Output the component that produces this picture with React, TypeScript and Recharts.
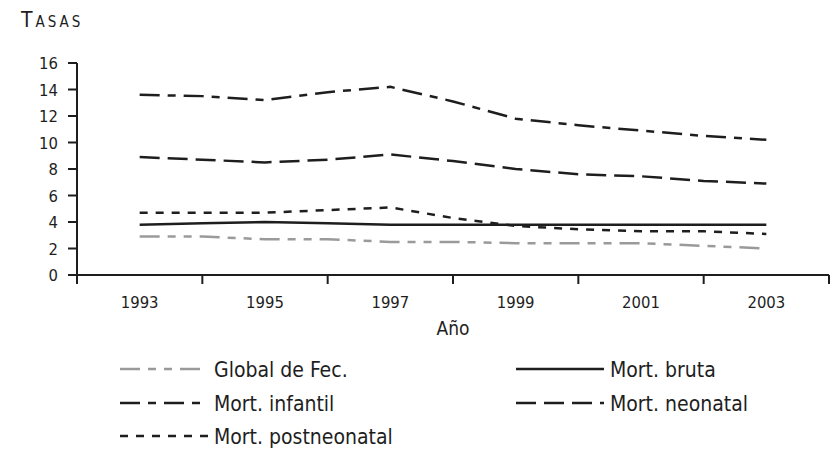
import React from 'react'
import { LineChart, Line, XAxis, YAxis } from 'recharts'

const years = [1993, 1994, 1995, 1996, 1997, 1998, 1999, 2000, 2001, 2002, 2003]
const globalFec = [2.9, 2.9, 2.7, 2.7, 2.5, 2.5, 2.4, 2.4, 2.4, 2.2, 2.0]
const mortBruta = [3.8, 3.9, 4.0, 3.9, 3.8, 3.8, 3.8, 3.8, 3.8, 3.8, 3.8]
const mortInfantil = [13.6, 13.5, 13.2, 13.8, 14.2, 13.1, 11.8, 11.3, 10.9, 10.5, 10.2]
const mortNeonatal = [8.9, 8.7, 8.5, 8.7, 9.1, 8.6, 8.0, 7.6, 7.45, 7.1, 6.9]
const mortPostneonatal = [4.7, 4.7, 4.7, 4.9, 5.1, 4.3, 3.7, 3.45, 3.3, 3.3, 3.1]

const xTicks = [1992, 1993, 1994, 1995, 1996, 1997, 1998, 1999, 2000, 2001, 2002, 2003, 2004]
const yTicks = [0, 2, 4, 6, 8, 10, 12, 14, 16]

const data = years.map((year, i) => ({
  year,
  globalFec: globalFec[i],
  mortBruta: mortBruta[i],
  mortInfantil: mortInfantil[i],
  mortNeonatal: mortNeonatal[i],
  mortPostneonatal: mortPostneonatal[i],
}))

const FONT = "'DejaVu Sans Condensed', 'DejaVu Sans', sans-serif"
const INK = '#1e1e1e'
const GRAY = '#9a9a9a'

const series = [
  { key: 'globalFec', name: 'Global de Fec.', color: GRAY, dash: '20 8 8 8 8 8' },
  { key: 'mortBruta', name: 'Mort. bruta', color: INK, dash: undefined },
  { key: 'mortInfantil', name: 'Mort. infantil', color: INK, dash: '20 8 8 8' },
  { key: 'mortNeonatal', name: 'Mort. neonatal', color: INK, dash: '20 8' },
  { key: 'mortPostneonatal', name: 'Mort. postneonatal', color: INK, dash: '8 8' },
]

const textStyle = { fontFamily: FONT, fontStretch: 'condensed' } as const

function XTick(props: any) {
  const { x, y, payload } = props
  if (payload.value % 2 === 0) {
    return <line x1={x} y1={y} x2={x} y2={y + 9} stroke={INK} strokeWidth={2} />
  }
  return (
    <text x={x} y={y + 33} textAnchor="middle" style={textStyle} fontSize={16.5} fill={INK}>
      {payload.value}
    </text>
  )
}

function YTick(props: any) {
  const { x, y, payload } = props
  return (
    <g>
      <line x1={x - 9} y1={y} x2={x} y2={y} stroke={INK} strokeWidth={2} />
      <text x={x - 19} y={y + 6} textAnchor="end" style={textStyle} fontSize={16.5} fill={INK}>
        {payload.value}
      </text>
    </g>
  )
}

function AxisTitle(props: any) {
  const { viewBox } = props
  return (
    <text
      x={viewBox.x + viewBox.width / 2}
      y={viewBox.y + 60}
      textAnchor="middle"
      style={textStyle}
      fontSize={19}
      fill={INK}
    >
      Año
    </text>
  )
}

function LegendItem({ s, left, top, lineWidth }: any) {
  return (
    <div style={{ position: 'absolute', left, top, display: 'flex', alignItems: 'center', height: 24, whiteSpace: 'nowrap' }}>
      <svg width={lineWidth} height={24} style={{ display: 'block' }}>
        <line x1={0} y1={11} x2={lineWidth} y2={11} stroke={s.color} strokeWidth={2.5} strokeDasharray={s.dash} />
      </svg>
      <span style={{ ...textStyle, marginLeft: 6, fontSize: 21, color: INK, lineHeight: '24px' }}>{s.name}</span>
    </div>
  )
}

export default function App() {
  return (
    <div style={{ position: 'absolute', left: 0, top: 0, width: 840, height: 451, background: '#fff', overflow: 'hidden' }}>
      <div
        style={{
          ...textStyle,
          position: 'absolute',
          left: 21,
          top: 8,
          fontVariant: 'small-caps',
          fontSize: 21,
          letterSpacing: 3,
          color: INK,
          lineHeight: '24px',
        }}
      >
        Tasas
      </div>
      <LineChart width={840} height={451} data={data} margin={{ top: 63, right: 11, left: 0, bottom: 116 }}>
        <XAxis
          dataKey="year"
          type="number"
          domain={[1992, 2004]}
          ticks={xTicks}
          interval={0}
          tickSize={0}
          tickMargin={0}
          tickLine={false}
          tick={<XTick />}
          height={60}
          axisLine={{ stroke: INK, strokeWidth: 2 }}
          label={<AxisTitle />}
        />
        <YAxis
          domain={[0, 16]}
          ticks={yTicks}
          interval={0}
          tickSize={0}
          tickMargin={0}
          tickLine={false}
          tick={<YTick />}
          width={77}
          axisLine={{ stroke: INK, strokeWidth: 2 }}
        />
        {series.map((s) => (
          <Line
            key={s.key}
            type="linear"
            dataKey={s.key}
            name={s.name}
            stroke={s.color}
            strokeWidth={2.5}
            strokeDasharray={s.dash}
            dot={false}
            activeDot={false}
            isAnimationActive={false}
          />
        ))}
      </LineChart>
      <LegendItem s={series[0]} left={120} top={358} lineWidth={88} />
      <LegendItem s={series[1]} left={516} top={358} lineWidth={88} />
      <LegendItem s={series[2]} left={120} top={392} lineWidth={88} />
      <LegendItem s={series[3]} left={516} top={392} lineWidth={88} />
      <LegendItem s={series[4]} left={120} top={425} lineWidth={88} />
    </div>
  )
}
